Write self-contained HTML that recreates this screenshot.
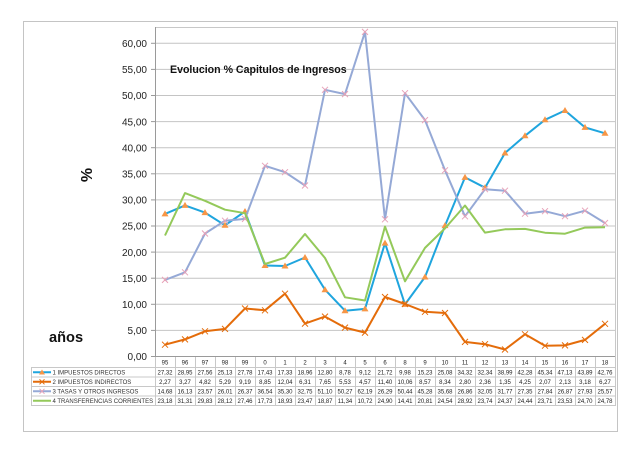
<!DOCTYPE html>
<html><head><meta charset="utf-8"><style>
html,body{margin:0;padding:0;background:#fff;}
svg{display:block;}
text{font-family:"Liberation Sans",Arial,sans-serif;fill:#222;}
</style></head><body>
<svg width="640" height="452" viewBox="0 0 640 452" xmlns="http://www.w3.org/2000/svg">
<rect x="0" y="0" width="640" height="452" fill="#fff"/>
<rect x="23.5" y="21.5" width="594" height="410" fill="none" stroke="#c4c4c4" stroke-width="1"/>
<!-- plot area border -->
<rect x="155.5" y="27.5" width="460" height="329" fill="none" stroke="#c8c8c8" stroke-width="1"/>
<!-- gridlines -->
<g stroke="#c4c4c4" stroke-width="1">
<line x1="155" y1="43.3" x2="615" y2="43.3"/>
<line x1="155" y1="69.4" x2="615" y2="69.4"/>
<line x1="155" y1="95.5" x2="615" y2="95.5"/>
<line x1="155" y1="121.6" x2="615" y2="121.6"/>
<line x1="155" y1="147.7" x2="615" y2="147.7"/>
<line x1="155" y1="173.8" x2="615" y2="173.8"/>
<line x1="155" y1="199.9" x2="615" y2="199.9"/>
<line x1="155" y1="226.0" x2="615" y2="226.0"/>
<line x1="155" y1="252.1" x2="615" y2="252.1"/>
<line x1="155" y1="278.2" x2="615" y2="278.2"/>
<line x1="155" y1="304.3" x2="615" y2="304.3"/>
<line x1="155" y1="330.4" x2="615" y2="330.4"/>
</g>
<!-- axis -->
<g stroke="#9a9a9a" stroke-width="1">
<line x1="155.5" y1="27" x2="155.5" y2="357"/>
<line x1="151" y1="43.3" x2="155" y2="43.3"/>
<line x1="151" y1="69.4" x2="155" y2="69.4"/>
<line x1="151" y1="95.5" x2="155" y2="95.5"/>
<line x1="151" y1="121.6" x2="155" y2="121.6"/>
<line x1="151" y1="147.7" x2="155" y2="147.7"/>
<line x1="151" y1="173.8" x2="155" y2="173.8"/>
<line x1="151" y1="199.9" x2="155" y2="199.9"/>
<line x1="151" y1="226.0" x2="155" y2="226.0"/>
<line x1="151" y1="252.1" x2="155" y2="252.1"/>
<line x1="151" y1="278.2" x2="155" y2="278.2"/>
<line x1="151" y1="304.3" x2="155" y2="304.3"/>
<line x1="151" y1="330.4" x2="155" y2="330.4"/>
<line x1="151" y1="356.5" x2="615" y2="356.5"/>
</g>
<!-- y labels -->
<g font-size="10" text-anchor="end">
<text x="147" y="47">60,00</text>
<text x="147" y="73.1">55,00</text>
<text x="147" y="99.2">50,00</text>
<text x="147" y="125.3">45,00</text>
<text x="147" y="151.4">40,00</text>
<text x="147" y="177.5">35,00</text>
<text x="147" y="203.6">30,00</text>
<text x="147" y="229.7">25,00</text>
<text x="147" y="255.8">20,00</text>
<text x="147" y="281.9">15,00</text>
<text x="147" y="308">10,00</text>
<text x="147" y="334.1">5,00</text>
<text x="147" y="360.2">0,00</text>
</g>
<text x="170" y="73" font-size="10.6" font-weight="bold" style="fill:#111">Evolucion % Capitulos de Ingresos</text>
<text x="0" y="0" font-size="16" font-weight="bold" text-anchor="middle" transform="translate(92,175) rotate(-90)" style="fill:#111">%</text>
<text x="49" y="342" font-size="14.6" font-weight="bold" style="fill:#111">años</text>

<!-- series 1 -->
<polyline fill="none" stroke="#1fa5de" stroke-width="2" stroke-linejoin="round" points="165,213.9 185,205.4 205,212.6 225,225.3 245,211.5 265,265.5 285,266 305,257.5 325,289.7 345,310.7 365,308.9 385,243.1 405,304.4 425,277 445,225.6 465,177.4 485,187.7 505,153 525,135.8 545,119.8 565,110.5 585,127.4 605,133.3"/>
<g fill="#f79646">
<path d="M165,210.4 l3.5,6 h-7z"/><path d="M185,201.9 l3.5,6 h-7z"/><path d="M205,209.1 l3.5,6 h-7z"/><path d="M225,221.8 l3.5,6 h-7z"/><path d="M245,208 l3.5,6 h-7z"/><path d="M265,262 l3.5,6 h-7z"/><path d="M285,262.5 l3.5,6 h-7z"/><path d="M305,254 l3.5,6 h-7z"/><path d="M325,286.2 l3.5,6 h-7z"/><path d="M345,307.2 l3.5,6 h-7z"/><path d="M365,305.4 l3.5,6 h-7z"/><path d="M385,239.6 l3.5,6 h-7z"/><path d="M405,300.9 l3.5,6 h-7z"/><path d="M425,273.5 l3.5,6 h-7z"/><path d="M445,222.1 l3.5,6 h-7z"/><path d="M465,173.9 l3.5,6 h-7z"/><path d="M485,184.2 l3.5,6 h-7z"/><path d="M505,149.5 l3.5,6 h-7z"/><path d="M525,132.3 l3.5,6 h-7z"/><path d="M545,116.3 l3.5,6 h-7z"/><path d="M565,107 l3.5,6 h-7z"/><path d="M585,123.9 l3.5,6 h-7z"/><path d="M605,129.8 l3.5,6 h-7z"/>
</g>
<!-- series 2 -->
<polyline fill="none" stroke="#e46c0a" stroke-width="2" stroke-linejoin="round" points="165,344.7 185,339.4 205,331.3 225,328.9 245,308.5 265,310.3 285,293.7 305,323.6 325,316.6 345,327.6 365,332.6 385,297 405,304 425,311.8 445,313 465,341.9 485,344.2 505,349.5 525,334.3 545,345.7 565,345.4 585,339.9 605,323.8"/>
<g stroke="#e46c0a" stroke-width="1">
<path d="M162,341.7l6,6M168,341.7l-6,6M182,336.4l6,6M188,336.4l-6,6M202,328.3l6,6M208,328.3l-6,6M222,325.9l6,6M228,325.9l-6,6M242,305.5l6,6M248,305.5l-6,6M262,307.3l6,6M268,307.3l-6,6M282,290.7l6,6M288,290.7l-6,6M302,320.6l6,6M308,320.6l-6,6M322,313.6l6,6M328,313.6l-6,6M342,324.6l6,6M348,324.6l-6,6M362,329.6l6,6M368,329.6l-6,6M382,294l6,6M388,294l-6,6M402,301l6,6M408,301l-6,6M422,308.8l6,6M428,308.8l-6,6M442,310l6,6M448,310l-6,6M462,338.9l6,6M468,338.9l-6,6M482,341.2l6,6M488,341.2l-6,6M502,346.5l6,6M508,346.5l-6,6M522,331.3l6,6M528,331.3l-6,6M542,342.7l6,6M548,342.7l-6,6M562,342.4l6,6M568,342.4l-6,6M582,336.9l6,6M588,336.9l-6,6M602,320.8l6,6M608,320.8l-6,6"/>
</g>
<!-- series 3 -->
<polyline fill="none" stroke="#95a9d6" stroke-width="2" stroke-linejoin="round" points="165,279.9 185,272.3 205,233.5 225,220.7 245,218.9 265,165.8 285,172.2 305,185.5 325,89.8 345,94.1 365,31.9 385,219.3 405,93.2 425,120.1 445,170.3 465,216.3 485,189.2 505,190.7 525,213.7 545,211.2 565,216.2 585,210.7 605,223"/>
<g stroke="#e8a2b8" stroke-width="1">
<path d="M162,276.9l6,6M168,276.9l-6,6M182,269.3l6,6M188,269.3l-6,6M202,230.5l6,6M208,230.5l-6,6M222,217.7l6,6M228,217.7l-6,6M242,215.9l6,6M248,215.9l-6,6M262,162.8l6,6M268,162.8l-6,6M282,169.2l6,6M288,169.2l-6,6M302,182.5l6,6M308,182.5l-6,6M322,86.8l6,6M328,86.8l-6,6M342,91.1l6,6M348,91.1l-6,6M362,28.9l6,6M368,28.9l-6,6M382,216.3l6,6M388,216.3l-6,6M402,90.2l6,6M408,90.2l-6,6M422,117.1l6,6M428,117.1l-6,6M442,167.3l6,6M448,167.3l-6,6M462,213.3l6,6M468,213.3l-6,6M482,186.2l6,6M488,186.2l-6,6M502,187.7l6,6M508,187.7l-6,6M522,210.7l6,6M528,210.7l-6,6M542,208.2l6,6M548,208.2l-6,6M562,213.2l6,6M568,213.2l-6,6M582,207.7l6,6M588,207.7l-6,6M602,220l6,6M608,220l-6,6"/>
</g>
<!-- series 4 -->
<polyline fill="none" stroke="#94c95a" stroke-width="2" stroke-linejoin="round" points="165,235.5 185,193.1 205,200.8 225,209.7 245,213.2 265,264 285,257.7 305,234 325,258 345,297.3 365,300.5 385,226.5 405,281.3 425,247.9 445,228.4 465,205.5 485,232.6 505,229.3 525,228.9 545,232.7 565,233.7 585,227.6 605,227.2"/>

<!-- table -->
<g stroke="#c8c8c8" stroke-width="1">
<line x1="31" y1="367.5" x2="615" y2="367.5"/>
<line x1="31" y1="377" x2="615" y2="377"/>
<line x1="31" y1="386.5" x2="615" y2="386.5"/>
<line x1="31" y1="396" x2="615" y2="396"/>
<line x1="31" y1="405.5" x2="615" y2="405.5"/>
<line x1="31.5" y1="367" x2="31.5" y2="406"/>
<path d="M155.5,357V406M175.5,357V406M195.5,357V406M215.5,357V406M235.5,357V406M255.5,357V406M275.5,357V406M295.5,357V406M315.5,357V406M335.5,357V406M355.5,357V406M375.5,357V406M395.5,357V406M415.5,357V406M435.5,357V406M455.5,357V406M475.5,357V406M495.5,357V406M515.5,357V406M535.5,357V406M555.5,357V406M575.5,357V406M595.5,357V406M615.5,357V406"/>
</g>
<!-- legend keys -->
<line x1="33" y1="372.3" x2="51" y2="372.3" stroke="#1fa5de" stroke-width="2"/>
<path d="M42,369.5 l3,5 h-6z" fill="#f79646"/>
<line x1="33" y1="381.8" x2="51" y2="381.8" stroke="#e46c0a" stroke-width="2"/>
<path d="M39.5,379.3l5,5M44.5,379.3l-5,5" stroke="#e46c0a" stroke-width="1"/>
<line x1="33" y1="391.3" x2="51" y2="391.3" stroke="#95a9d6" stroke-width="2"/>
<path d="M39.5,388.8l5,5M44.5,388.8l-5,5" stroke="#e8a2b8" stroke-width="1"/>
<line x1="33" y1="400.8" x2="51" y2="400.8" stroke="#94c95a" stroke-width="2"/>
<g font-size="6" style="fill:#333">
<text x="52.5" y="374.5" style="fill:#333">1 IMPUESTOS DIRECTOS</text>
<text x="52.5" y="384" style="fill:#333">2 IMPUESTOS INDIRECTOS</text>
<text x="52.5" y="393.5" style="fill:#333">3 TASAS Y OTROS INGRESOS</text>
<text x="52.5" y="403" style="fill:#333">4 TRANSFERENCIAS CORRIENTES</text>
</g>
<g font-size="6" text-anchor="middle">
<text x="165" y="364.5">95</text><text x="185" y="364.5">96</text><text x="205" y="364.5">97</text><text x="225" y="364.5">98</text><text x="245" y="364.5">99</text><text x="265" y="364.5">0</text><text x="285" y="364.5">1</text><text x="305" y="364.5">2</text><text x="325" y="364.5">3</text><text x="345" y="364.5">4</text><text x="365" y="364.5">5</text><text x="385" y="364.5">6</text><text x="405" y="364.5">8</text><text x="425" y="364.5">9</text><text x="445" y="364.5">10</text><text x="465" y="364.5">11</text><text x="485" y="364.5">12</text><text x="505" y="364.5">13</text><text x="525" y="364.5">14</text><text x="545" y="364.5">15</text><text x="565" y="364.5">16</text><text x="585" y="364.5">17</text><text x="605" y="364.5">18</text>

<text x="165" y="374.5">27,32</text><text x="185" y="374.5">28,95</text><text x="205" y="374.5">27,56</text><text x="225" y="374.5">25,13</text><text x="245" y="374.5">27,78</text><text x="265" y="374.5">17,43</text><text x="285" y="374.5">17,33</text><text x="305" y="374.5">18,96</text><text x="325" y="374.5">12,80</text><text x="345" y="374.5">8,78</text><text x="365" y="374.5">9,12</text><text x="385" y="374.5">21,72</text><text x="405" y="374.5">9,98</text><text x="425" y="374.5">15,23</text><text x="445" y="374.5">25,08</text><text x="465" y="374.5">34,32</text><text x="485" y="374.5">32,34</text><text x="505" y="374.5">38,99</text><text x="525" y="374.5">42,28</text><text x="545" y="374.5">45,34</text><text x="565" y="374.5">47,13</text><text x="585" y="374.5">43,89</text><text x="605" y="374.5">42,76</text>

<text x="165" y="384">2,27</text><text x="185" y="384">3,27</text><text x="205" y="384">4,82</text><text x="225" y="384">5,29</text><text x="245" y="384">9,19</text><text x="265" y="384">8,85</text><text x="285" y="384">12,04</text><text x="305" y="384">6,31</text><text x="325" y="384">7,65</text><text x="345" y="384">5,53</text><text x="365" y="384">4,57</text><text x="385" y="384">11,40</text><text x="405" y="384">10,06</text><text x="425" y="384">8,57</text><text x="445" y="384">8,34</text><text x="465" y="384">2,80</text><text x="485" y="384">2,36</text><text x="505" y="384">1,35</text><text x="525" y="384">4,25</text><text x="545" y="384">2,07</text><text x="565" y="384">2,13</text><text x="585" y="384">3,18</text><text x="605" y="384">6,27</text>

<text x="165" y="393.5">14,68</text><text x="185" y="393.5">16,13</text><text x="205" y="393.5">23,57</text><text x="225" y="393.5">26,01</text><text x="245" y="393.5">26,37</text><text x="265" y="393.5">36,54</text><text x="285" y="393.5">35,30</text><text x="305" y="393.5">32,75</text><text x="325" y="393.5">51,10</text><text x="345" y="393.5">50,27</text><text x="365" y="393.5">62,19</text><text x="385" y="393.5">26,29</text><text x="405" y="393.5">50,44</text><text x="425" y="393.5">45,28</text><text x="445" y="393.5">35,68</text><text x="465" y="393.5">26,86</text><text x="485" y="393.5">32,05</text><text x="505" y="393.5">31,77</text><text x="525" y="393.5">27,35</text><text x="545" y="393.5">27,84</text><text x="565" y="393.5">26,87</text><text x="585" y="393.5">27,93</text><text x="605" y="393.5">25,57</text>

<text x="165" y="403">23,18</text><text x="185" y="403">31,31</text><text x="205" y="403">29,83</text><text x="225" y="403">28,12</text><text x="245" y="403">27,46</text><text x="265" y="403">17,73</text><text x="285" y="403">18,93</text><text x="305" y="403">23,47</text><text x="325" y="403">18,87</text><text x="345" y="403">11,34</text><text x="365" y="403">10,72</text><text x="385" y="403">24,90</text><text x="405" y="403">14,41</text><text x="425" y="403">20,81</text><text x="445" y="403">24,54</text><text x="465" y="403">28,92</text><text x="485" y="403">23,74</text><text x="505" y="403">24,37</text><text x="525" y="403">24,44</text><text x="545" y="403">23,71</text><text x="565" y="403">23,53</text><text x="585" y="403">24,70</text><text x="605" y="403">24,78</text>
</g>
</svg>
</body></html>
